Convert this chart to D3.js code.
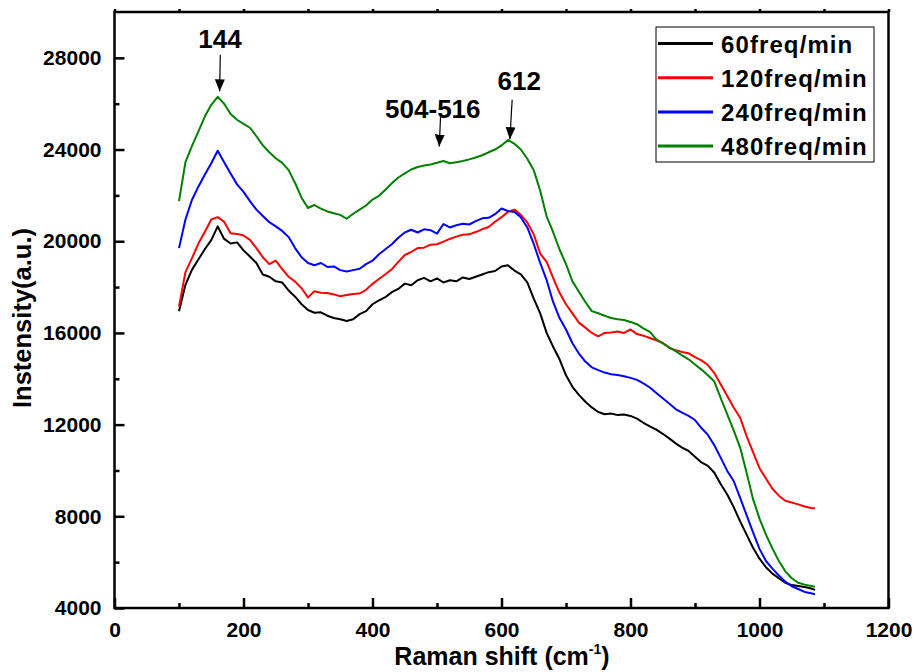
<!DOCTYPE html>
<html>
<head>
<meta charset="utf-8">
<script src="https://cdn.jsdelivr.net/npm/d3@7"></script>
<style>
  html, body { margin: 0; padding: 0; background: #fff; }
  svg { display: block; }
  text { font-family: "Liberation Sans", Arial, Helvetica, sans-serif; font-weight: bold; fill: #000; }
</style>
</head>
<body>
<svg id="chart" width="916" height="672"></svg>
<script>
// ---------------- DATA ----------------
const ramanShift = [100,110,120,130,140,150,160,170,180,190,200,210,220,230,240,250,260,270,280,290,
  300,310,320,330,340,350,360,370,380,390,400,410,420,430,440,450,460,470,480,490,
  500,510,520,530,540,550,560,570,580,590,600,610,620,630,640,650,660,670,680,690,
  700,710,720,730,740,750,760,770,780,790,800,810,820,830,840,850,860,870,880,890,
  900,910,920,930,940,950,960,970,980,990,1000,1010,1020,1030,1040,1050,1060,1070,1080,1086];

const freq60 = [16950,18100,18750,19200,19650,20050,20650,20100,19900,19950,19600,19330,19050,18550,18450,18250,18200,17850,17580,17250,
  17000,16880,16900,16750,16650,16600,16520,16600,16820,16950,17250,17420,17560,17780,17920,18150,18080,18300,18400,18250,
  18380,18200,18300,18250,18420,18350,18450,18550,18650,18700,18900,18950,18720,18550,18200,17500,16850,16000,15400,14850,
  14150,13650,13300,13000,12750,12550,12450,12480,12420,12440,12380,12260,12080,11920,11780,11600,11400,11180,11000,10850,
  10600,10350,10200,9900,9400,8950,8400,7780,7200,6630,6150,5780,5500,5300,5100,5000,4960,4920,4850,4790];

const freq120 = [17150,18650,19250,19900,20400,20950,21050,20850,20350,20320,20250,20060,19700,19300,19000,19150,18780,18450,18240,17950,
  17550,17820,17750,17740,17680,17600,17650,17700,17720,17880,18140,18350,18560,18780,19100,19400,19530,19700,19720,19850,
  19870,19980,20100,20200,20280,20300,20400,20520,20620,20850,21050,21280,21380,21150,20820,20300,19460,19100,18400,17750,
  17250,16850,16450,16230,16000,15850,16000,16020,16060,16000,16150,15950,15880,15780,15680,15560,15350,15250,15170,15110,
  14940,14800,14600,14250,13750,13250,12750,12300,11500,10800,10100,9650,9200,8900,8680,8600,8520,8430,8360,8350];

const freq240 = [19700,20950,21800,22380,22900,23400,23950,23450,22950,22480,22150,21750,21380,21100,20830,20650,20450,20180,19700,19300,
  19050,18950,19050,18880,18900,18740,18680,18740,18800,19000,19150,19430,19650,19870,20150,20380,20500,20380,20520,20480,
  20330,20750,20600,20700,20760,20730,20880,21000,21020,21180,21430,21320,21280,21050,20600,19880,19050,18300,17350,16650,
  16150,15550,15100,14750,14500,14380,14270,14200,14160,14110,14040,13950,13800,13620,13380,13150,12920,12680,12520,12380,
  12200,11850,11550,11100,10550,9980,9540,8800,8050,7300,6580,6050,5720,5420,5150,4950,4830,4700,4640,4600];

const freq480 = [21750,23450,24150,24780,25440,25950,26300,26000,25550,25300,25120,24950,24580,24180,23880,23620,23420,23100,22540,21900,
  21450,21580,21420,21300,21220,21150,20980,21200,21380,21560,21820,21980,22250,22530,22780,22960,23130,23240,23300,23350,
  23420,23500,23400,23450,23500,23570,23650,23750,23880,24000,24180,24420,24250,24000,23600,23100,22200,21080,20400,19640,
  19000,18250,17800,17350,16950,16860,16750,16650,16600,16560,16480,16380,16200,16050,15720,15550,15370,15200,15020,14850,
  14620,14400,14150,13880,13150,12450,11750,11000,9900,8750,7900,7200,6600,6050,5600,5300,5100,5020,4960,4930];

const seriesNames = ["60freq/min", "120freq/min", "240freq/min", "480freq/min"];
const seriesColors = ["#000000", "#ff0000", "#0000ff", "#008000"];
const seriesValues = [freq60, freq120, freq240, freq480];

const xTicks = [0, 200, 400, 600, 800, 1000, 1200];
const xMinorTicks = [100, 300, 500, 700, 900, 1100];
const yTicks = [4000, 8000, 12000, 16000, 20000, 24000, 28000];
const yMinorTicks = [6000, 10000, 14000, 18000, 22000, 26000];

// annotation: label, text anchor (x,y) in data units, arrow from (x1,y1) to tip (x2,y2)
const annLabels = ["144", "504-516", "612"];
const annTextX = [163.5, 493.5, 627.5];
const annTextY = [28420, 25370, 26600];
const annFromX = [164, 505.5, 616.5];
const annFromY = [28130, 25430, 26170];
const annToX = [163, 503.5, 613];
const annToY = [26540, 24130, 24450];

// ---------------- LAYOUT ----------------
const svg = d3.select("#chart");
const x = d3.scaleLinear().domain([0, 1200]).range([114.5, 888.5]);
const y = d3.scaleLinear().domain([4000, 30000]).range([608, 12]);

// lines
const line = d3.line()
  .x((d, i) => x(ramanShift[i]))
  .y(d => y(d));

seriesValues.forEach((vals, k) => {
  svg.append("path")
    .datum(vals)
    .attr("fill", "none")
    .attr("stroke", seriesColors[k])
    .attr("stroke-width", 2)
    .attr("stroke-linejoin", "round")
    .attr("d", line);
});

// frame
const axisW = 2.5;
svg.append("rect")
  .attr("x", x(0)).attr("y", y(30000))
  .attr("width", x(1200) - x(0)).attr("height", y(4000) - y(30000))
  .attr("fill", "none").attr("stroke", "#000").attr("stroke-width", axisW);

// bottom axis
const gx = svg.append("g").attr("transform", `translate(0,${y(4000)})`);
gx.call(d3.axisBottom(x).tickValues(xTicks).tickSize(-10).tickPadding(14).tickFormat(d3.format("d")));
gx.append("g").call(d3.axisBottom(x).tickValues(xMinorTicks).tickSize(-5).tickFormat(""));
// left axis
const gy = svg.append("g").attr("transform", `translate(${x(0)},0)`);
gy.call(d3.axisLeft(y).tickValues(yTicks).tickSize(-10).tickPadding(13).tickFormat(d3.format("d")));
gy.append("g").call(d3.axisLeft(y).tickValues(yMinorTicks).tickSize(-5).tickFormat(""));
// top axis small ticks
const gt = svg.append("g").attr("transform", `translate(0,${y(30000)})`);
gt.call(d3.axisTop(x).tickValues(xTicks.concat(xMinorTicks)).tickSize(3).tickFormat(""));

svg.selectAll(".domain").remove();
svg.selectAll(".tick line").attr("stroke", "#000").attr("stroke-width", axisW);
gx.selectAll(".tick text").style("font-size", "21px").style("font-family", "'Liberation Sans', Arial, sans-serif").style("font-weight", "bold");
gy.selectAll(".tick text").style("font-size", "21px").style("font-family", "'Liberation Sans', Arial, sans-serif").style("font-weight", "bold");

// axis titles
const xt = svg.append("text")
  .attr("x", (395 + 609) / 2).attr("y", 665)
  .attr("text-anchor", "middle")
  .style("font-size", "25px");
xt.append("tspan").text("Raman shift (cm");
xt.append("tspan").attr("dy", -11).style("font-size", "14px").text("-1");
xt.append("tspan").attr("dy", 11).text(")");

svg.append("text")
  .attr("transform", `translate(31,318) rotate(-90)`)
  .attr("text-anchor", "middle")
  .style("font-size", "25.5px")
  .text("Instensity(a.u.)");

// annotations
const defs = svg.append("defs");
defs.append("marker")
  .attr("id", "arrowhead")
  .attr("viewBox", "0 0 12 12")
  .attr("refX", 12).attr("refY", 6)
  .attr("markerWidth", 12).attr("markerHeight", 12)
  .attr("markerUnits", "userSpaceOnUse")
  .attr("orient", "auto")
  .append("path").attr("d", "M0,1 L12,6 L0,11 Z").attr("fill", "#000");

annLabels.forEach((lab, i) => {
  svg.append("text")
    .attr("x", x(annTextX[i])).attr("y", y(annTextY[i]))
    .attr("text-anchor", "middle")
    .style("font-size", "26px")
    .text(lab);
  svg.append("line")
    .attr("x1", x(annFromX[i])).attr("y1", y(annFromY[i]))
    .attr("x2", x(annToX[i])).attr("y2", y(annToY[i]))
    .attr("stroke", "#000").attr("stroke-width", 1.2)
    .attr("marker-end", "url(#arrowhead)");
});

// legend
const lg = svg.append("g");
lg.append("rect")
  .attr("x", 656).attr("y", 27).attr("width", 218).attr("height", 135)
  .attr("fill", "#fff").attr("stroke", "#000").attr("stroke-width", 1);
seriesNames.forEach((name, k) => {
  const cy = 43.5 + k * 34.2;
  lg.append("line")
    .attr("x1", 658).attr("x2", 713).attr("y1", cy).attr("y2", cy)
    .attr("stroke", seriesColors[k]).attr("stroke-width", 3);
  lg.append("text")
    .attr("x", 721).attr("y", cy + 9)
    .style("font-size", "24px")
    .style("letter-spacing", "1.1px")
    .text(name);
});
</script>
</body>
</html>
